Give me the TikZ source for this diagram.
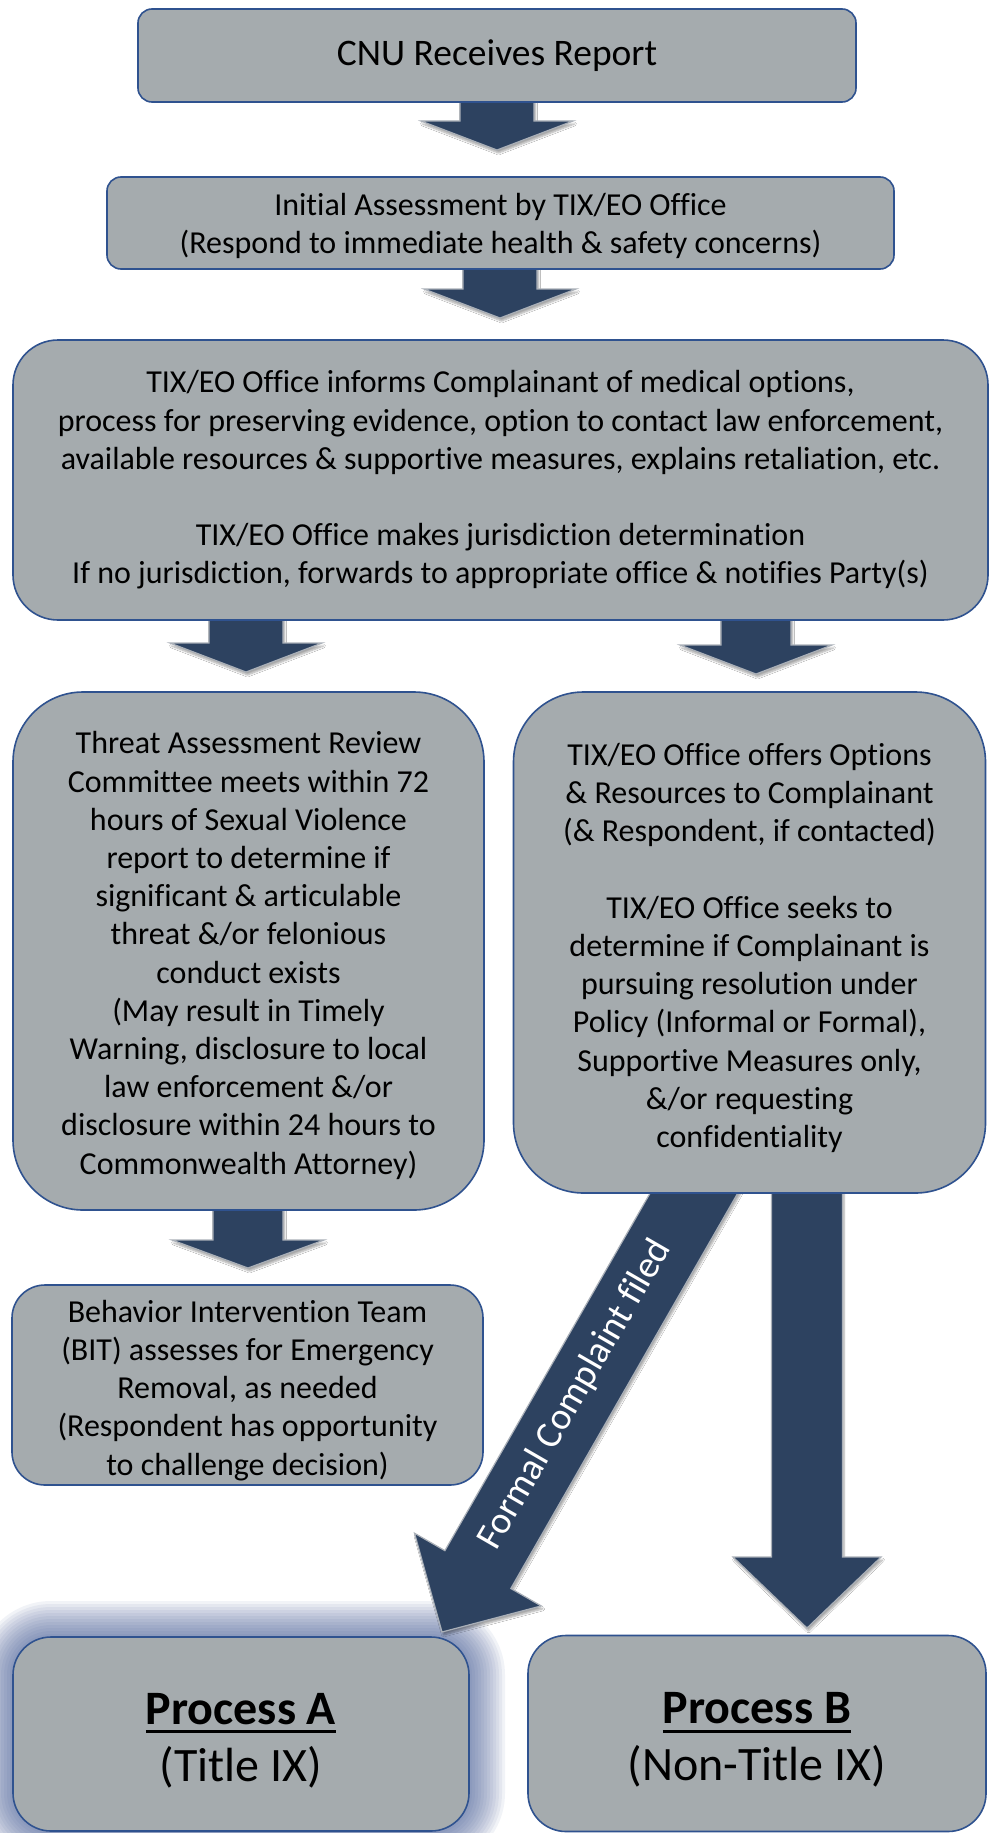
\documentclass[tikz,border=0pt]{standalone}
\usepackage{fontspec}
\setmainfont{Carlito}[Ligatures={NoCommon}]
\usetikzlibrary{calc,shadows.blur}
\definecolor{boxfill}{RGB}{165,171,174}
\definecolor{boxline}{RGB}{47,82,143}
\definecolor{arrowfill}{RGB}{45,66,96}
\definecolor{arrowrim}{RGB}{170,176,184}
\definecolor{glowc}{RGB}{72,94,152}
\newcommand{\bodyfont}{\fontsize{32}{38.2}\selectfont}
\newcommand{\myul}[1]{\setbox0\hbox{#1}\rlap{\rule[-9pt]{\wd0}{3pt}}\box0}
\newcommand{\ts}[1]{\rule{0pt}{#1}}
% block arrow: #1 start, #2 tip, #3 half shaft, #4 half head, #5 head length
\newcommand{\blockarrow}[5]{%
  \coordinate (bah) at ($(#2)!#5!(#1)$);
  \path[arrowstyle] ($(#1)!#3!90:(#2)$) -- ($(bah)!#3!-90:(#1)$) -- ($(bah)!#4!-90:(#1)$) -- (#2) -- ($(bah)!#4!90:(#1)$) -- ($(bah)!#3!90:(#1)$) -- ($(#1)!#3!-90:(#2)$) -- cycle;
}
\tikzset{
  box/.style={draw=boxline, line width=1.6pt, fill=boxfill, align=center, inner sep=0pt, text=black, font=\bodyfont},
  arrowstyle/.style={fill=arrowfill, draw=arrowrim, line width=1.2pt, line join=miter,
    blur shadow={shadow xshift=1.5pt, shadow yshift=-3pt, shadow blur steps=6, shadow opacity=35}},
}
\begin{document}
\begin{tikzpicture}[x=1pt, y=-1pt]
\fill[white] (0,0) rectangle (995,1833);
\useasboundingbox (0,0) rectangle (995,1833);

% glow behind Process A
\foreach \e in {36,33,...,3} {
  \fill[glowc, opacity=0.075, rounded corners={38pt+\e pt}] (13-\e,1637-\e) rectangle (469+\e,1831+\e);
}

% arrow coordinates
\coordinate (a1s) at (497,100);  \coordinate (a1t) at (497,150);
\coordinate (a2s) at (500,267);  \coordinate (a2t) at (500,318);
\coordinate (a3s) at (246,617);  \coordinate (a3t) at (246,672);
\coordinate (a4s) at (756,617);  \coordinate (a4t) at (756,674);
\coordinate (a5s) at (248,1208); \coordinate (a5t) at (248,1268);
\coordinate (a6s) at (718.7,1150); \coordinate (a6t) at (442,1632);
\coordinate (a7s) at (807,1150); \coordinate (a7t) at (807,1628);

\blockarrow{a1s}{a1t}{37pt}{76pt}{29pt}
\blockarrow{a2s}{a2t}{37pt}{76pt}{29pt}
\blockarrow{a3s}{a3t}{37pt}{76pt}{29pt}
\blockarrow{a4s}{a4t}{35pt}{76pt}{29pt}
\blockarrow{a5s}{a5t}{35pt}{76pt}{28pt}
\blockarrow{a6s}{a6t}{38pt}{73pt}{72pt}
\blockarrow{a7s}{a7t}{35.5pt}{74pt}{71pt}

\node[rotate=60, anchor=base west, inner sep=0pt, text=white, font=\fontsize{38}{44}\selectfont] (fc) at (496,1552) {Formal Complaint filed};

% boxes
\node[box, rounded corners=14pt, minimum width=718pt, minimum height=93pt, font=\fontsize{37.5}{44}\selectfont] (b1) at (497,55.5) {CNU Receives Report};
\node[box, rounded corners=14pt, minimum width=787pt, minimum height=92pt] (b2) at (500.5,223) {\ts{28pt}Initial Assessment by TIX/EO Office\\(Respond to immediate health \& safety concerns)};
\node[box, rounded corners=45pt, minimum width=975pt, minimum height=280pt] (b3) at (500.5,480) {TIX/EO Office informs Complainant of medical options,\\process for preserving evidence, option to contact law enforcement,\\available resources \& supportive measures, explains retaliation, etc.\\[38.2pt]TIX/EO Office makes jurisdiction determination\\If no jurisdiction, forwards to appropriate office \& notifies Party(s)};
\node[box, rounded corners=70pt, minimum width=471pt, minimum height=518pt] (b4) at (248.5,951) {\ts{31pt}Threat Assessment Review\\Committee meets within 72\\hours of Sexual Violence\\report to determine if\\significant \& articulable\\threat \&/or felonious\\conduct exists\\(May result in Timely\\Warning, disclosure to local\\law enforcement \&/or\\disclosure within 24 hours to\\Commonwealth Attorney)};
\node[box, rounded corners=70pt, minimum width=472pt, minimum height=501pt] (b5) at (749.5,942.5) {\ts{33pt}TIX/EO Office offers Options\\\& Resources to Complainant\\(\& Respondent, if contacted)\\[38.2pt]TIX/EO Office seeks to\\determine if Complainant is\\pursuing resolution under\\Policy (Informal or Formal),\\Supportive Measures only,\\\&/or requesting\\confidentiality};
\node[box, rounded corners=33pt, minimum width=471pt, minimum height=200pt] (b6) at (247.5,1385) {\ts{33pt}Behavior Intervention Team\\(BIT) assesses for Emergency\\Removal, as needed\\(Respondent has opportunity\\to challenge decision)};
\node[box, rounded corners=38pt, minimum width=456pt, minimum height=194pt, font=\fontsize{48}{57}\selectfont] (b7) at (241,1734) {\ts{44pt}\myul{\textbf{Process A}}\\(Title IX)};
\node[box, rounded corners=38pt, minimum width=458pt, minimum height=196pt, font=\fontsize{48}{57}\selectfont] (b8) at (757,1733.5) {\ts{44pt}\myul{\textbf{Process B}}\\(Non-Title IX)};
\end{tikzpicture}
\end{document}
